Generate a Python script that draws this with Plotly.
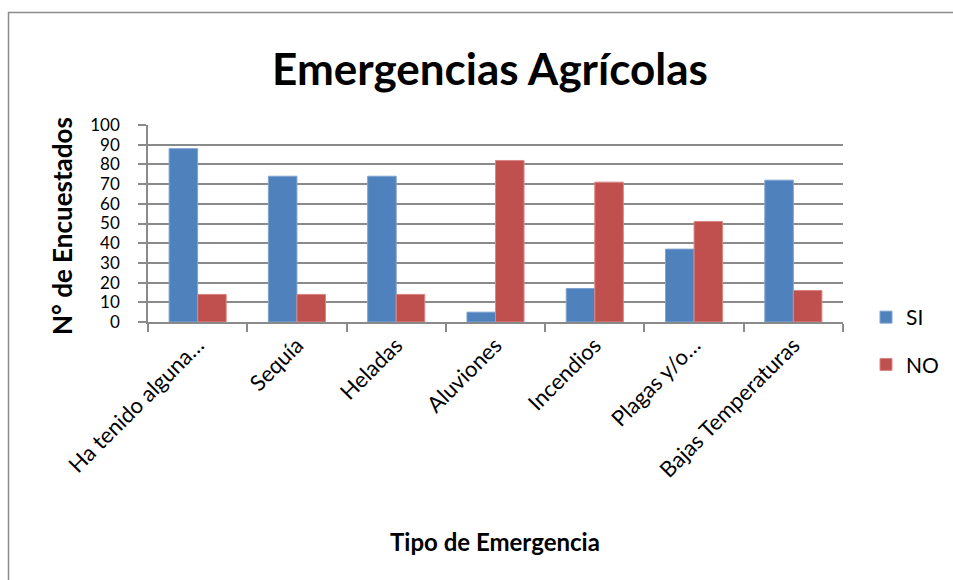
import plotly.graph_objects as go

categorias = ["Ha tenido alguna…", "Sequía", "Heladas", "Aluviones",
              "Incendios", "Plagas y/o…", "Bajas Temperaturas"]
si_vals = [88, 74, 74, 5, 17, 37, 72]
no_vals = [14, 14, 14, 82, 71, 51, 16]
y_ticks = list(range(0, 101, 10))

FONT = "Lato"
GRID = "#8a8a8a"

fig = go.Figure()
fig.add_trace(go.Bar(x=categorias, y=si_vals, name="SI", marker_color="#4F81BD",
                     marker_line=dict(color="#7FA3D1", width=1), legendgroup="a"))
fig.add_trace(go.Bar(x=categorias, y=no_vals, name="NO", marker_color="#C0504D",
                     marker_line=dict(color="#D98684", width=1), legendgroup="b"))

L, R, T, B = 148, 110, 125, 258
W, H = 953, 580
pw, ph = W - L - R, H - T - B

def px(x):
    return (x - L) / pw

def py(y):
    return (H - B - y) / ph

fig.update_layout(
    width=W, height=H,
    margin=dict(l=L, r=R, t=T, b=B, autoexpand=False),
    paper_bgcolor="white", plot_bgcolor="white",
    barmode="group", bargap=0.425, bargroupgap=0,
    font=dict(family=FONT, color="black"),
    title=dict(text="<b>Emergencias Agrícolas</b>", x=px(490), xref="paper",
               y=1 - 70 / H, yref="container", xanchor="center", yanchor="middle",
               font=dict(family=FONT, size=44, color="black")),
    legend=dict(x=px(866), y=py(297), xanchor="left", yanchor="top",
                font=dict(family=FONT, size=21), tracegroupgap=17,
                bgcolor="rgba(0,0,0,0)"),
    showlegend=True,
)

fig.update_xaxes(
    type="category", tickangle=-45, tickson="boundaries",
    ticks="outside", ticklen=8, tickcolor=GRID, tickwidth=1.5,
    showline=True, linecolor=GRID, linewidth=1.5,
    showgrid=False, tickfont=dict(family=FONT, size=22, color="black"),
)
fig.update_yaxes(
    range=[0, 100], tickvals=y_ticks, ticktext=[str(v) for v in y_ticks],
    ticks="outside", ticklen=8, tickcolor=GRID, tickwidth=1.5,
    showline=True, linecolor=GRID, linewidth=1.5,
    showgrid=True, gridcolor=GRID, gridwidth=1.5, zeroline=False,
    ticklabelstandoff=15,
    tickfont=dict(family=FONT, size=17, color="black"),
)

fig.add_annotation(text="<b>N° de Encuestados</b>", x=px(62), y=py(226),
                   xref="paper", yref="paper", textangle=-90, showarrow=False,
                   font=dict(family=FONT, size=26, color="black"),
                   xanchor="center", yanchor="middle")
fig.add_annotation(text="<b>Tipo de Emergencia</b>", x=px(495), y=py(541),
                   xref="paper", yref="paper", showarrow=False,
                   font=dict(family=FONT, size=24, color="black"),
                   xanchor="center", yanchor="middle")

fig.add_shape(type="rect", xref="paper", yref="paper",
              x0=px(8.5), x1=px(975), y0=py(600), y1=py(12.5),
              line=dict(color="#8c8c8c", width=1.5), layer="below")

fig.write_html("out.html", config={"displayModeBar": False},
               post_script="document.body.style.margin='0';document.body.style.overflow='hidden';")
